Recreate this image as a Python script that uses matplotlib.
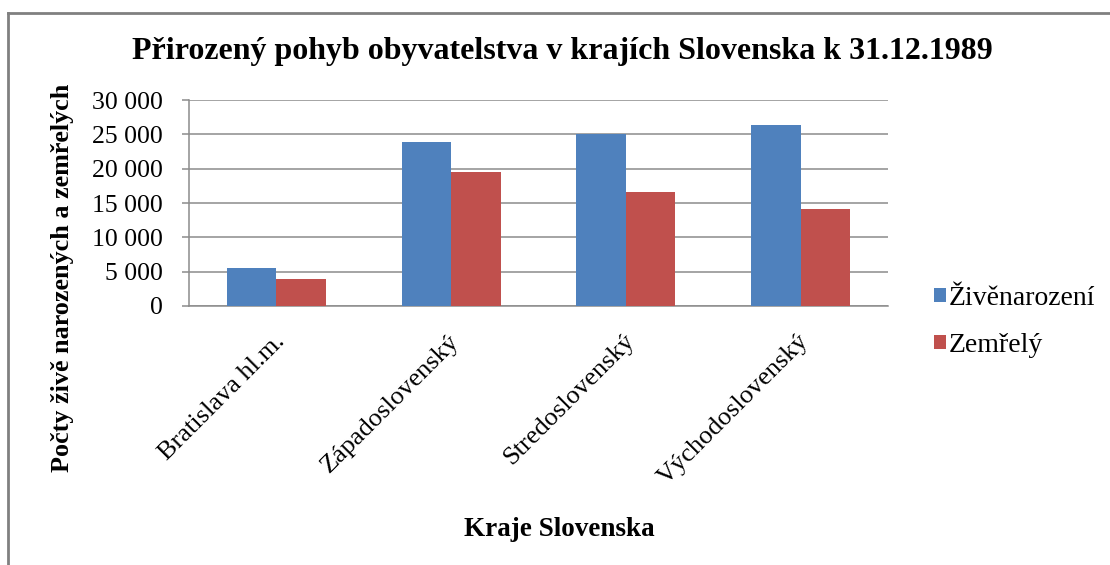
import matplotlib.pyplot as plt
import numpy as np
from matplotlib.lines import Line2D
from matplotlib.ticker import FuncFormatter
from matplotlib.transforms import ScaledTranslation

# %% Data
kraje = ['Bratislava hl.m.', 'Západoslovenský', 'Stredoslovenský', 'Východoslovenský']
zive_narozeni = [5500, 23950, 25000, 26300]
zemrely = [3900, 19550, 16550, 14150]

# %% Plot
plt.rcParams['font.family'] = ['Liberation Serif', 'DejaVu Serif']

blue = '#4F81BD'
red = '#C0504D'
grid_gray = '#8C8C8C'

fig = plt.figure(figsize=(11.1, 5.65), dpi=100)
ax = fig.add_axes([189 / 1110, 1 - 306 / 565, (888 - 189) / 1110, 206 / 565])

x = np.arange(len(kraje))
w = 0.283
ax.bar(x - w / 2, zive_narozeni, width=w, color=blue, label='Živěnarození', zorder=3)
ax.bar(x + w / 2, zemrely, width=w, color=red, label='Zemřelý', zorder=3)

ax.set_xlim(-0.5, len(kraje) - 0.5)
ax.set_ylim(0, 30000)
ax.set_yticks(np.arange(0, 30001, 5000))
ax.yaxis.set_major_formatter(FuncFormatter(lambda v, p: f'{int(v):,}'.replace(',', ' ')))
ax.grid(axis='y', color=grid_gray, linewidth=1.1, zorder=0)

for s in ['top', 'right']:
    ax.spines[s].set_visible(False)
for s in ['left', 'bottom']:
    ax.spines[s].set_color(grid_gray)
    ax.spines[s].set_linewidth(1.1)

ax.tick_params(axis='y', length=5, width=1.1, color=grid_gray, pad=14, labelsize=18.5)
ax.set_xticks(x)
ax.set_xticklabels(kraje, rotation=45, ha='right', va='center',
                   rotation_mode='anchor', fontsize=19)
ax.tick_params(axis='x', length=0, pad=23)
shift = ScaledTranslation(5 / 100, 0, fig.dpi_scale_trans)
for lbl in ax.get_xticklabels():
    lbl.set_transform(lbl.get_transform() + shift)

fig.text(562 / 1110, 1 - 51 / 565, 'Přirozený pohyb obyvatelstva v krajích Slovenska k 31.12.1989',
         ha='center', va='center', fontsize=23, fontweight='bold')
fig.text(63 / 1110, 0.508, 'Počty živě narozených a zemřelých',
         rotation=90, ha='center', va='center', fontsize=18.8, fontweight='bold')
fig.text(559 / 1110, 1 - 530 / 565, 'Kraje Slovenska',
         ha='center', va='center', fontsize=19.5, fontweight='bold')

fig.legend(loc='center left', bbox_to_anchor=(934 / 1110, 1 - 322 / 565),
           frameon=False, fontsize=20, handlelength=0.43, handleheight=0.43,
           handletextpad=0.1, labelspacing=0.8, borderaxespad=0, borderpad=0)

# frame of the chart area (left and top edges visible)
fig.add_artist(Line2D([7.5 / 1110, 7.5 / 1110], [0, 1 - 12.5 / 565],
                      transform=fig.transFigure, color='#808080', linewidth=2))
fig.add_artist(Line2D([7.5 / 1110, 1], [1 - 12.5 / 565, 1 - 12.5 / 565],
                      transform=fig.transFigure, color='#808080', linewidth=2))

plt.savefig('out.png', dpi=100, facecolor='white')
